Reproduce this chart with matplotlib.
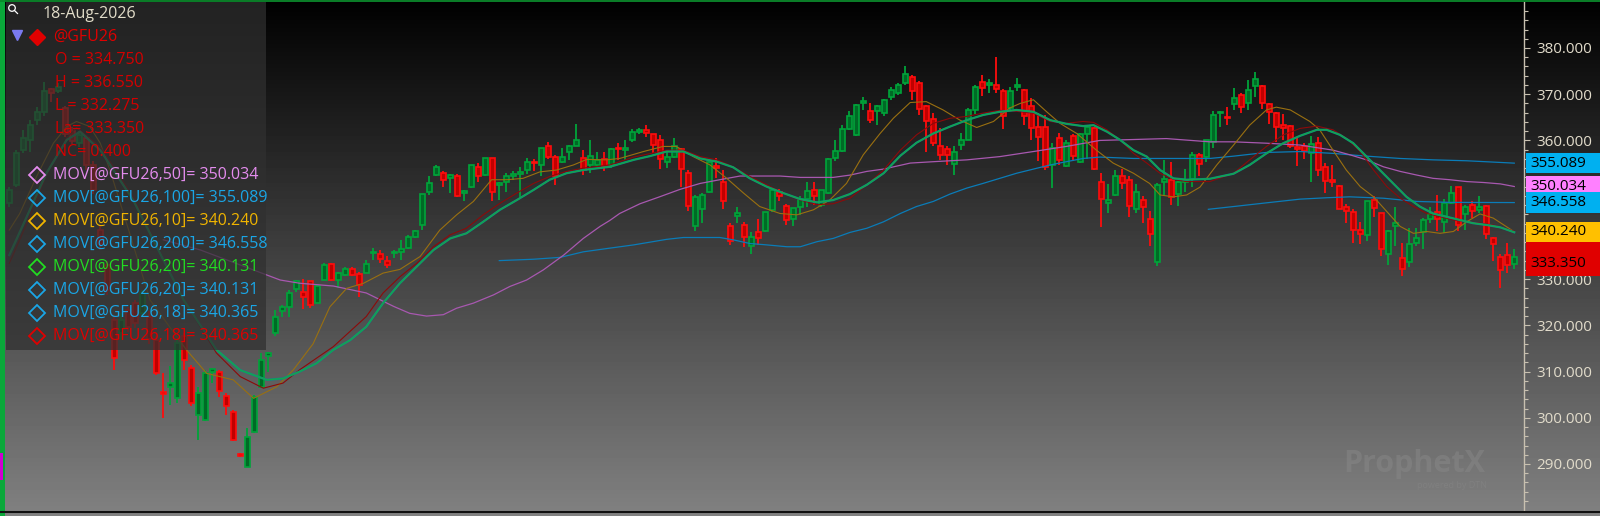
import numpy as np
import matplotlib
matplotlib.use("Agg")
import matplotlib.pyplot as plt
from matplotlib.patches import Rectangle, Circle
from matplotlib.transforms import blended_transform_factory

plt.rcParams['font.family'] = ['Open Sans', 'DejaVu Sans']

# daily bars @GFU26, oldest first
opens = [
    346.4, 350.4, 357.9, 360.1, 364.4, 366.2, 371.1, 370.6, 367.0, 362.0, 359.4, 360.5,
    354.7, 340.6, 333.0, 321.2, 318.3, 323.3, 324.8, 322.6, 321.9, 316.8, 305.5, 306.7,
    304.2, 317.6, 310.7, 300.6, 299.5, 309.8, 309.8, 304.7, 301.3, 292.2, 289.4, 297.0,
    306.7, 313.4, 318.3, 323.0, 324.0, 327.8, 327.3, 329.5, 324.8, 329.8, 333.2, 329.8,
    330.9, 332.1, 331.1, 331.4, 335.6, 335.4, 333.9, 335.6, 335.8, 336.7, 339.2, 341.7,
    348.9, 352.5, 352.9, 351.8, 352.4, 348.7, 349.9, 354.2, 352.5, 356.1, 350.4, 351.1,
    352.3, 352.8, 353.5, 355.4, 354.7, 358.7, 356.5, 355.4, 357.6, 358.8, 356.1, 354.7,
    354.7, 355.9, 354.7, 358.4, 357.9, 360.1, 361.9, 362.3, 361.4, 360.0, 355.4, 356.4,
    358.1, 353.0, 341.4, 345.1, 348.9, 354.5, 350.9, 341.4, 343.7, 341.6, 337.2, 340.1,
    340.3, 345.0, 348.9, 345.8, 343.0, 345.5, 347.3, 349.3, 346.1, 348.7, 356.1, 357.8,
    362.4, 361.2, 368.2, 366.4, 366.4, 365.9, 369.3, 370.3, 372.4, 373.7, 372.4, 367.5,
    364.6, 358.7, 358.2, 354.9, 359.0, 360.1, 366.5, 372.7, 372.0, 372.0, 370.8, 367.0,
    371.6, 370.9, 367.5, 363.0, 362.8, 354.7, 360.5, 354.5, 361.0, 355.4, 361.4, 362.6,
    351.1, 346.4, 348.2, 352.3, 351.5, 345.1, 347.1, 342.9, 333.8, 351.1, 351.5, 348.4,
    351.1, 351.6, 356.9, 356.4, 359.7, 365.9, 365.1, 367.9, 369.8, 368.2, 371.8, 371.8,
    367.9, 366.0, 363.4, 363.1, 358.5, 358.8, 357.2, 359.4, 354.2, 351.5, 350.2, 345.5,
    344.6, 340.6, 339.6, 347.1, 344.2, 335.4, 341.4, 334.5, 333.8, 337.9, 340.1, 342.9,
    344.6, 342.4, 346.4, 349.9, 344.1, 346.0, 345.0, 345.8, 338.8, 332.0, 335.2, 334.75,
]
highs = [
    350.0, 358.0, 362.3, 364.4, 367.3, 372.7, 371.3, 372.4, 367.4, 363.0, 362.0, 361.0,
    355.5, 341.4, 334.0, 322.0, 322.6, 324.0, 325.5, 327.7, 323.0, 317.6, 309.6, 311.1,
    317.2, 318.3, 311.5, 306.7, 310.3, 310.7, 310.3, 305.3, 301.7, 292.4, 297.7, 305.0,
    314.0, 314.3, 323.3, 324.4, 327.7, 329.8, 330.0, 329.5, 328.7, 333.4, 333.4, 331.6,
    332.7, 332.7, 331.6, 334.2, 336.7, 336.3, 334.9, 336.3, 338.5, 339.6, 340.6, 348.4,
    352.2, 354.7, 353.3, 352.7, 352.7, 349.3, 354.7, 355.1, 356.1, 356.1, 351.1, 352.9,
    353.3, 354.3, 356.1, 355.9, 358.3, 359.7, 356.9, 358.3, 359.0, 363.6, 357.9, 360.1,
    357.6, 357.6, 358.3, 359.4, 360.1, 362.4, 362.6, 363.3, 361.4, 361.2, 357.6, 360.5,
    358.3, 353.5, 348.1, 348.7, 355.8, 356.1, 353.5, 342.1, 345.5, 342.3, 340.1, 342.9,
    344.6, 349.7, 349.4, 346.3, 345.3, 348.0, 351.1, 350.9, 349.3, 356.1, 360.2, 363.3,
    366.4, 367.8, 369.3, 368.2, 367.7, 368.9, 371.6, 372.4, 376.1, 374.2, 372.9, 367.7,
    365.9, 362.6, 358.7, 358.7, 361.7, 367.0, 372.0, 374.2, 373.2, 378.1, 371.1, 371.5,
    373.4, 371.1, 369.1, 365.9, 365.5, 359.5, 361.7, 360.2, 361.5, 361.7, 363.3, 362.8,
    352.9, 350.6, 353.5, 353.8, 352.2, 350.6, 348.0, 344.8, 350.7, 355.8, 355.4, 351.3,
    353.8, 357.6, 357.2, 360.2, 366.4, 366.4, 367.2, 371.3, 370.3, 373.1, 374.7, 372.0,
    368.2, 366.2, 365.7, 363.3, 360.5, 359.5, 361.0, 360.7, 355.2, 354.7, 350.4, 346.3,
    345.1, 342.4, 347.0, 348.0, 344.4, 340.6, 345.5, 337.9, 341.0, 341.0, 343.2, 345.5,
    348.2, 347.3, 350.2, 350.0, 346.0, 346.8, 348.0, 346.0, 339.1, 335.4, 337.8, 336.55,
]
lows = [
    345.7, 349.9, 357.2, 357.6, 363.3, 365.2, 368.4, 370.2, 360.8, 359.3, 358.6, 353.6,
    348.5, 336.3, 326.5, 310.4, 316.9, 318.5, 319.5, 321.8, 316.0, 309.2, 299.9, 302.8,
    303.1, 310.4, 302.5, 295.2, 299.2, 307.5, 304.6, 300.6, 294.9, 291.6, 289.3, 296.6,
    306.4, 310.0, 317.6, 321.9, 321.9, 327.3, 323.5, 323.7, 324.8, 329.8, 329.5, 328.0,
    330.6, 330.6, 326.2, 331.3, 334.2, 333.4, 332.3, 334.5, 334.2, 336.5, 338.8, 340.6,
    348.2, 352.2, 350.0, 348.7, 347.7, 347.0, 349.7, 351.1, 352.2, 347.0, 347.2, 348.9,
    351.5, 347.8, 352.7, 353.3, 352.2, 355.9, 350.4, 355.1, 355.8, 358.7, 352.5, 352.9,
    354.3, 353.3, 354.0, 355.8, 355.8, 359.7, 361.5, 360.7, 357.2, 353.8, 354.0, 356.1,
    350.0, 344.8, 340.3, 342.1, 348.7, 351.8, 345.1, 337.4, 342.2, 337.0, 335.4, 337.4,
    340.1, 344.6, 346.8, 341.7, 341.4, 343.9, 345.7, 346.1, 345.5, 348.4, 355.6, 357.6,
    362.3, 361.0, 366.6, 363.7, 363.3, 365.2, 368.8, 369.8, 372.0, 368.8, 365.5, 357.6,
    358.7, 355.8, 354.7, 352.5, 357.9, 360.0, 365.7, 369.6, 370.3, 370.3, 362.4, 366.6,
    370.6, 363.3, 360.0, 355.6, 353.5, 349.7, 354.7, 354.2, 355.6, 355.1, 355.9, 353.5,
    341.2, 344.4, 348.0, 349.4, 343.5, 344.4, 342.2, 337.2, 332.8, 348.0, 346.1, 345.8,
    348.9, 349.9, 352.2, 355.4, 358.3, 362.8, 363.3, 366.6, 366.0, 366.6, 369.3, 366.7,
    363.6, 359.7, 360.0, 358.3, 354.5, 355.9, 351.1, 352.3, 348.6, 350.0, 345.1, 342.2,
    337.9, 337.6, 338.3, 343.4, 335.0, 333.1, 337.2, 330.7, 332.6, 337.2, 336.5, 342.1,
    340.3, 339.9, 346.3, 340.3, 340.6, 343.2, 344.4, 338.6, 334.0, 328.0, 331.4, 332.275,
]
closes = [
    349.3, 357.2, 360.5, 363.3, 366.2, 370.6, 370.2, 371.6, 361.5, 359.8, 361.2, 354.7,
    349.3, 337.7, 327.7, 312.9, 321.2, 319.7, 320.4, 326.9, 317.0, 309.6, 305.1, 307.6,
    316.1, 312.5, 303.1, 305.3, 309.6, 310.5, 305.7, 302.6, 295.2, 291.8, 295.9, 304.6,
    312.5, 314.0, 321.9, 324.0, 327.0, 329.5, 326.2, 324.4, 328.4, 333.1, 329.8, 331.3,
    332.1, 330.9, 328.7, 333.2, 335.9, 334.3, 333.1, 335.9, 336.5, 339.2, 340.3, 348.4,
    350.7, 354.3, 351.5, 352.5, 348.0, 349.1, 354.6, 352.3, 356.1, 348.9, 350.7, 352.3,
    352.7, 353.2, 355.4, 355.1, 358.3, 356.5, 352.3, 356.5, 358.7, 360.2, 353.5, 356.6,
    355.8, 354.5, 358.2, 358.1, 358.3, 361.9, 362.3, 361.7, 359.0, 356.0, 356.4, 358.7,
    353.8, 345.8, 347.8, 348.1, 355.4, 354.1, 347.0, 338.3, 344.4, 339.1, 339.2, 338.8,
    344.5, 349.3, 348.0, 342.8, 345.3, 347.3, 349.1, 348.0, 349.2, 355.9, 357.8, 362.4,
    365.2, 367.7, 368.6, 364.4, 367.5, 368.8, 370.9, 372.0, 374.3, 370.8, 366.9, 364.1,
    359.5, 356.9, 356.9, 357.4, 360.2, 366.6, 371.6, 371.4, 372.4, 371.1, 365.3, 370.6,
    372.1, 365.3, 362.6, 360.7, 354.2, 358.3, 355.8, 359.4, 356.6, 361.4, 362.8, 353.8,
    347.3, 347.1, 352.2, 350.7, 345.8, 348.9, 345.7, 339.8, 350.4, 351.6, 347.8, 351.1,
    351.5, 356.9, 354.9, 360.0, 365.5, 366.2, 364.8, 369.1, 367.3, 370.9, 373.2, 368.2,
    366.2, 363.0, 362.6, 358.8, 358.2, 357.8, 359.2, 353.5, 351.3, 351.0, 345.1, 344.8,
    340.6, 339.8, 346.8, 345.3, 336.5, 340.3, 342.1, 332.1, 337.6, 338.8, 342.8, 344.1,
    343.0, 346.4, 348.7, 341.7, 345.5, 344.8, 345.5, 339.8, 337.6, 334.7, 332.95, 333.35,
]
# G = net change up, R = net change down
day_color = ("GGGGGGRGRR" "GRRRRRGRRG" "RRRGGRRGGG" "RRRRGGGGGG" "GG"
             "RRGGRGGRRG" "GRRGGGGGGG" "RGRGGRGRGG" "GGGRGRRGGG" "RGGR"
             "GRGGGRRRGG" "RRGGGRRRGR" "GRGGRRGGGR" "GGGGGGGRGG" "GGG"
             "RRRRRRGGGG" "RGRRGGRRRR" "GRGRGGRRGG" "RRGRRGGRGG" "GRG"
             "GGRGRGGRRR" "RRRRGRRRRR" "RRGRRGGRGG" "GGRGGRGRGR" "RRRG")

# moving averages, (bar position, value)
ma10_x = [0, 1.5, 3.9, 6.3, 8.2, 9.6, 11.5, 13, 14.4, 17.2, 20.1, 25.3, 28.2, 32, 34.9, 38.2,
          40.6, 43.4, 45.8, 48.2, 50.6, 53.4, 55.8, 58.7, 61.5, 63.9, 66.3, 68.9, 71.1, 73.4,
          75.8, 78.2, 80.6, 82.5, 85.3, 87.2, 90.6, 93.4, 95.3, 97.7, 100.1, 102.5, 104.9,
          107.2, 110.1, 112.5, 114.9, 117.2, 119.6, 122, 124.4, 126.3, 128.7, 131, 133.4,
          135.8, 138.2, 140.6, 142.9, 144.4, 146.3, 148.2, 150.1, 152.5, 155.3, 157.7, 160.6,
          162.9, 164.4, 166.3, 168.2, 170.1, 172.5, 174.9, 177.2, 179.6, 181, 183, 185.8,
          187.2, 189.1, 191, 193, 194.9, 196.8, 198.7, 200.6, 202.5, 204.4, 206.3, 208.2,
          210.1, 212, 215]
ma10 = [340.6, 344.2, 352.2, 359.4, 363.0, 364.1, 363.0, 359.4, 353.5, 339.9, 325.5, 314.7,
        309.6, 308.2, 304.2, 306.7, 310.4, 316.0, 324.0, 328.0, 329.1, 331.3, 332.1, 334.9,
        340.6, 343.9, 346.8, 351.5, 351.5, 351.8, 353.2, 353.6, 354.7, 355.9, 355.8, 356.1,
        357.6, 358.7, 358.7, 356.5, 354.7, 351.8, 348.6, 345.7, 344.2, 343.9, 345.0, 347.1,
        350.7, 356.9, 361.5, 364.8, 368.2, 368.4, 366.6, 364.4, 362.8, 364.1, 367.0, 368.0,
        368.8, 366.2, 363.7, 361.5, 357.9, 355.1, 352.9, 350.7, 348.2, 347.8, 348.2, 349.9,
        354.7, 359.0, 363.3, 366.6, 367.2, 366.6, 364.1, 362.3, 357.9, 353.6, 350.0, 347.8,
        344.6, 341.4, 339.9, 340.3, 339.9, 340.3, 342.4, 344.1, 343.2, 340.24]

ma20_x = [0, 2.5, 5.3, 8.2, 10.1, 13, 17.7, 24.9, 29.6, 33, 36.8, 39.1, 41.5, 43.9, 46.3,
          48.7, 51, 53.4, 55.8, 58.2, 60.6, 63, 65.3, 67.7, 70.1, 72.5, 74.9, 77.2, 79.6, 82,
          85.8, 89.2, 91.5, 93.9, 96.3, 98.7, 101.1, 103.4, 105.8, 108.2, 110.6, 113, 115.4,
          117.7, 120.1, 122.5, 124.9, 127.3, 129.6, 132, 134.4, 136.8, 139.1, 141.5, 143.9,
          146.3, 148.7, 151, 153.4, 154.9, 156.8, 158.7, 160.6, 162.5, 164.4, 166.3, 168.2,
          171.5, 174.9, 177.2, 179.6, 182, 184.4, 186.8, 188.2, 190.1, 192, 193.9, 195.8,
          197.7, 199.6, 201.5, 203.4, 205.3, 207.2, 209.1, 211.1, 213, 215]
ma20 = [335.2, 343.5, 352.9, 360.1, 361.9, 357.9, 347.1, 325.5, 314.7, 310.3, 308.2, 308.5,
        310.0, 311.8, 314.7, 316.8, 319.7, 324.8, 329.1, 332.7, 336.3, 338.8, 339.9, 342.4,
        345.0, 347.1, 349.3, 351.5, 352.9, 353.6, 354.3, 355.8, 356.6, 357.6, 357.6, 356.1,
        355.4, 354.2, 351.8, 350.0, 348.6, 347.3, 346.6, 347.1, 348.4, 350.4, 352.9, 356.7,
        359.5, 361.5, 363.0, 364.4, 365.5, 366.2, 366.6, 366.2, 364.4, 363.6, 363.1, 363.3,
        361.9, 360.1, 357.9, 356.5, 353.6, 351.8, 351.5, 351.7, 352.8, 354.7, 357.2, 359.4,
        361.0, 362.3, 362.3, 361.2, 359.4, 356.5, 353.6, 350.7, 347.8, 345.7, 344.2, 343.5,
        342.8, 342.1, 341.7, 341.2, 340.131]

ma18_x = [0, 2.5, 5.3, 8.2, 9.6, 13, 17.7, 24.9, 29.6, 33, 36.3, 39.1, 41.5, 46.3, 51, 53.4,
          55.8, 58.2, 60.6, 63, 65.3, 67.7, 70.1, 72.5, 74.9, 77.2, 79.6, 82, 85.8, 89.2,
          93.9, 96.3, 98.7, 101.1, 103.4, 105.8, 108.2, 110.6, 113, 115.4, 117.7, 120.1,
          122.5, 124.9, 127.3, 129.6, 132, 134.4, 136.8, 139.1, 141.5, 143.9, 146.3, 148.7,
          151, 153.4, 154.9, 156.8, 158.7, 160.6, 162.5, 164.4, 166.3, 168.2, 171.5, 174.9,
          177.2, 179.6, 182, 184.4, 186.8, 189.1, 191, 193, 194.9, 196.8, 198.7, 200.6,
          202.5, 204.4, 206.3, 208.2, 210.1, 212, 215]
ma18 = [333.4, 342.0, 352.5, 360.5, 362.8, 358.6, 347.8, 325.5, 314.0, 308.9, 306.4, 307.5,
        310.4, 315.4, 321.9, 327.0, 330.5, 333.4, 337.0, 339.6, 341.0, 343.9, 346.4, 348.6,
        350.7, 352.2, 353.3, 354.0, 354.7, 356.4, 357.9, 357.9, 356.5, 355.8, 354.3, 352.2,
        350.4, 348.6, 347.1, 346.1, 346.3, 347.5, 350.4, 353.6, 357.9, 361.2, 363.7, 364.8,
        365.2, 365.9, 366.5, 366.3, 365.9, 364.1, 363.7, 364.1, 363.9, 362.3, 360.1, 357.2,
        355.1, 352.9, 351.6, 351.1, 351.1, 352.9, 355.8, 358.7, 361.2, 362.6, 363.1, 362.3,
        360.5, 357.6, 353.6, 350.0, 347.5, 345.7, 344.2, 343.5, 342.8, 342.4, 342.1, 341.7,
        340.365]

ma50_x = [22, 27.3, 38.7, 41.5, 46.3, 51, 54.9, 57.2, 59.6, 62, 63.9, 66.3, 69.2, 71.5, 73.9,
          76.3, 79.2, 82, 84.4, 85.8, 87.2, 90.1, 92.9, 95.8, 98.7, 101.5, 104.4, 110.1, 113,
          117.7, 120.1, 122.5, 124.9, 128.7, 132, 136.8, 141.5, 146.3, 151, 155.8, 160.6,
          165.3, 171.5, 174.9, 179.6, 184.4, 189.1, 191.5, 193.9, 196.3, 198.7, 201.1, 203.4,
          205.8, 208.2, 210.6, 213, 215]
ma50 = [338.5, 336.3, 329.8, 329.1, 328.5, 327.0, 324.1, 322.6, 322.0, 322.3, 323.7, 324.8,
        326.6, 328.4, 329.8, 332.0, 335.2, 338.8, 341.4, 342.7, 344.2, 346.3, 347.8, 349.4,
        350.7, 351.5, 352.3, 352.3, 352.0, 352.0, 352.5, 353.3, 353.8, 355.1, 355.4, 355.8,
        356.5, 357.6, 358.7, 360.0, 360.2, 360.4, 359.7, 359.7, 359.4, 359.0, 357.9, 356.9,
        355.8, 354.3, 353.3, 352.5, 351.8, 351.5, 351.1, 350.9, 350.6, 350.034]

ma100_x = [70, 74.9, 78.7, 82, 85.8, 89.2, 93.9, 96.3, 101.5, 103.4, 105.8, 108.2, 111.1, 113,
           115.4, 117.7, 120.1, 122.5, 124.9, 127.3, 129.6, 132, 134.4, 136.8, 139.1, 141.5,
           143.9, 146.3, 148.7, 151, 153.4, 155.8, 160.6, 171.5, 174.9, 179.6, 184.4, 189.1,
           193.9, 198.7, 203.4, 208.2, 215]
ma100 = [334.0, 334.3, 334.7, 335.9, 336.7, 337.4, 338.6, 339.0, 339.0, 338.5, 337.7, 337.4,
         337.0, 337.0, 338.1, 338.8, 340.1, 341.0, 342.4, 344.2, 345.7, 346.8, 348.4, 349.7,
         350.7, 351.8, 352.9, 353.8, 354.7, 355.4, 356.1, 356.4, 356.1, 356.1, 356.6, 357.4,
         357.6, 357.2, 356.6, 356.1, 355.8, 355.6, 355.089]

ma200_x = [171.3, 174.9, 179.6, 184.4, 188.2, 191.5, 196.3, 201.1, 205.8, 215]
ma200 = [345.1, 345.7, 346.5, 347.3, 347.6, 347.8, 347.5, 346.8, 346.6, 346.558]

legend_rows = [
    ("MOV[@GFU26,50]= 350.034", "#e48cee"),
    ("MOV[@GFU26,100]= 355.089", "#1aa6e6"),
    ("MOV[@GFU26,10]= 340.240", "#f0b400"),
    ("MOV[@GFU26,200]= 346.558", "#1aa6e6"),
    ("MOV[@GFU26,20]= 340.131", "#22dd22"),
    ("MOV[@GFU26,20]= 340.131", "#1aa6e6"),
    ("MOV[@GFU26,18]= 340.365", "#1aa6e6"),
    ("MOV[@GFU26,18]= 340.365", "#e00000"),
]
quote_rows = ["O = 334.750", "H = 336.550", "L = 332.275", "La= 333.350", "NC= 0.400"]

assert len(day_color) == len(closes)

fig = plt.figure(figsize=(16, 5.16), dpi=100)

# background gradient
bg = fig.add_axes([0, 0, 1, 1], zorder=-10)
grad = np.clip(np.arange(516) / 511 * 128, 0, 140)
bg.imshow(np.repeat(grad[:, None], 2, axis=1), cmap='gray', vmin=0, vmax=255,
          aspect='auto', extent=[0, 1600, 516, 0])
bg.axis('off')

ax = fig.add_axes([6 / 1600, 5 / 516, 1518 / 1600, 509 / 516])
ax.set_facecolor('none')

x = np.arange(len(closes))
o = np.array(opens)
h = np.array(highs)
l = np.array(lows)
c = np.array(closes)
up = np.array([d == 'G' for d in day_color])
lo = np.minimum(o, c)
hgt = np.maximum(np.abs(c - o), 0.3)

for flag, edge, fill in [(True, '#00a43a', '#006a26'), (False, '#ff0d0d', '#c00000')]:
    m = up == flag
    ax.vlines(x[m], l[m], h[m], color=edge, lw=1.3, zorder=2)
    ax.bar(x[m], hgt[m], bottom=lo[m], width=0.72, color=fill, edgecolor=edge,
           linewidth=1.2, zorder=2.5)

ax.plot(ma100_x, ma100, color='#0a7cb8', lw=0.9, zorder=3)
ax.plot(ma200_x, ma200, color='#0a7cb8', lw=0.9, zorder=3)
ax.plot(ma50_x, ma50, color='#a858b0', lw=0.9, zorder=3)
ax.plot(ma10_x, ma10, color='#9a7010', lw=0.8, zorder=3)
ax.plot(ma18_x, ma18, color='#8c0a0a', lw=0.8, zorder=3)
ax.plot(ma20_x, ma20, color='#0b8a8a', lw=1.6, zorder=3.1)
ax.plot(ma20_x, ma20, color='#14a848', lw=0.9, zorder=3.2)

ax.set_xlim(-0.47, 216.39)
ax.set_ylim(279.83, 389.95)
ax.set_xticks([])
ax.yaxis.tick_right()
major = np.arange(290, 381, 10)
# 340 and 350 sit under the price tags
ax.set_yticks(major)
ax.set_yticklabels(['' if v in (340, 350) else '%.3f' % v for v in major])
ax.set_yticks(np.arange(282, 389, 2), minor=True)
ax.tick_params(axis='y', which='major', length=4.5, width=0.8, color='#c8c0b0',
               labelcolor='#e2dccb', labelsize=11, pad=4.5)
ax.tick_params(axis='y', which='minor', length=2.6, width=0.8, color='#c8c0b0')
for s in ['top', 'bottom', 'left']:
    ax.spines[s].set_visible(False)
ax.spines['right'].set_color('#c8c0b0')
ax.spines['right'].set_linewidth(1.0)

# price tags on the right axis
tag_tr = blended_transform_factory(ax.transAxes, ax.transData)
tag_h = 4.4
tags = [(ma50[-1], '350.034', '#ff80ff'), (ma100[-1], '355.089', '#00b0f0'),
        (ma200[-1], '346.558', '#00b0f0'), (ma20[-1], '', '#10e010'),
        (ma10[-1], '340.240', '#ffc000')]
for v, s, col in tags:
    ax.add_patch(Rectangle((1.0013, v - tag_h / 2), 0.06, tag_h, transform=tag_tr,
                           fc=col, ec='none', clip_on=False, zorder=5))
    if s:
        ax.text(1.0045, v, s, transform=tag_tr, va='center', ha='left', fontsize=11,
                color='black', clip_on=False, zorder=6)
last = closes[-1]
top = ma10[-1] - tag_h / 2
ax.add_patch(Rectangle((1.0013, last - tag_h / 2 - 0.4), 0.06, top - (last - tag_h / 2 - 0.4),
                       transform=tag_tr, fc='#e00000', ec='none', clip_on=False, zorder=5))
ax.text(1.0045, last, '333.350', transform=tag_tr, va='center', ha='left', fontsize=11,
        color='black', clip_on=False, zorder=6)

# overlay in pixel units: frame, legend panel, watermark
ov = fig.add_axes([0, 0, 1, 1], zorder=5)
ov.set_xlim(0, 1600)
ov.set_ylim(516, 0)
ov.axis('off')
ov.patch.set_alpha(0)

ov.plot([0, 1600], [1.2, 1.2], color='#0c8a2c', lw=1.3)
ov.plot([0, 1600], [512, 512], color='#101010', lw=1.5)
ov.add_patch(Rectangle((0, 0), 5, 516, fc='#0aa83a', ec='none'))
ov.add_patch(Rectangle((0, 453), 2.5, 27, fc='#d000d0', ec='none'))

ov.add_patch(Rectangle((6, 2), 260, 348, fc='#303030', alpha=0.72, ec='none'))
ov.add_patch(Circle((12, 8), 3.3, fill=False, ec='white', lw=0.9))
ov.plot([14.5, 17.5], [10.5, 13.5], color='white', lw=0.9)
ov.text(43, 14, "18-Aug-2026", fontsize=11.5, color='#e1dcc8', va='center', ha='left')
ov.plot(17, 35, marker='v', ms=6.5, color='#7a7af0', mec='#7a7af0')
ov.plot(37, 37, marker='D', ms=8.5, color='#e00000', mec='#e00000')
ov.text(53, 37, "@GFU26", fontsize=11.5, color='#e00000', va='center', ha='left')
for i, s in enumerate(quote_rows):
    ov.text(55, 60 + 23 * i, s, fontsize=11.5, color='#d40000', va='center', ha='left')
for i, (s, col) in enumerate(legend_rows):
    yy = 174.5 + 23 * i
    ov.plot(37, yy, marker='D', ms=8, mfc='none', mec=col, mew=1.3)
    ov.text(53, yy, s, fontsize=11.5, color=col, va='center', ha='left')

ov.text(1414, 464, "ProphetX", fontsize=22, fontweight='bold', color='#858585',
        va='center', ha='center', alpha=0.6)
ov.text(1452, 486, "powered by DTN", fontsize=6.5, color='#858585', va='center',
        ha='center', alpha=0.6)

fig.savefig('out.png', dpi=100)
